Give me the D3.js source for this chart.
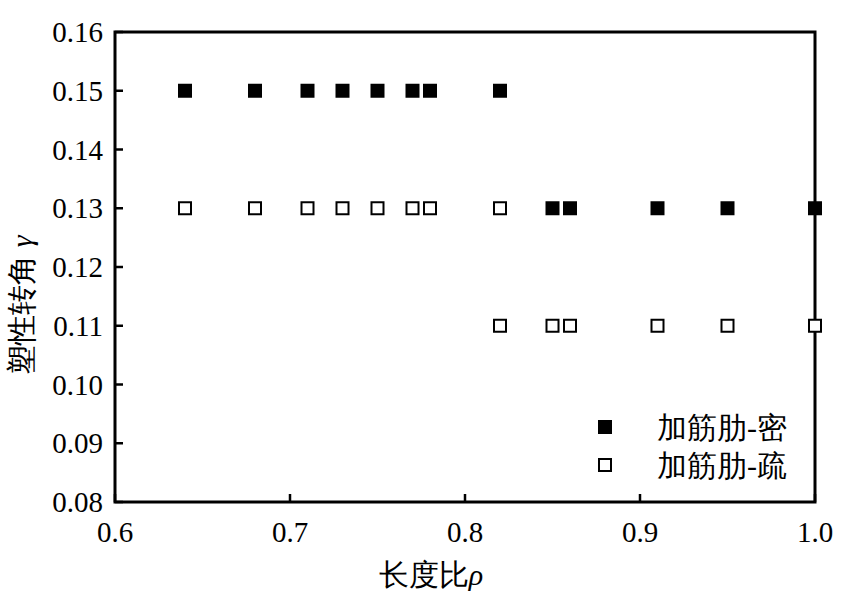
<!DOCTYPE html>
<html><head><meta charset="utf-8">
<script src="https://cdn.jsdelivr.net/npm/d3@7"></script>
</head><body style="margin:0">
<svg id="c" width="851" height="612"></svg>
<script>
const denseX = [0.64,0.68,0.71,0.73,0.75,0.77,0.78,0.82,0.85,0.86,0.91,0.95,1.0];
const denseY = [0.15,0.15,0.15,0.15,0.15,0.15,0.15,0.15,0.13,0.13,0.13,0.13,0.13];
const sparseX = [0.64,0.68,0.71,0.73,0.75,0.77,0.78,0.82,0.82,0.85,0.86,0.91,0.95,1.0];
const sparseY = [0.13,0.13,0.13,0.13,0.13,0.13,0.13,0.13,0.11,0.11,0.11,0.11,0.11,0.11];
const xTicks = [0.6,0.7,0.8,0.9,1.0];
const yTicks = [0.08,0.09,0.10,0.11,0.12,0.13,0.14,0.15,0.16];
const seriesNames = ["加筋肋-密","加筋肋-疏"];

const FONT = "Liberation Serif";
const svg = d3.select("#c");
const L=115,R=815,T=32,B=502;
const x = d3.scaleLinear().domain([0.6,1.0]).range([L,R]);
const y = d3.scaleLinear().domain([0.08,0.16]).range([B,T]);

svg.append("rect").attr("x",L).attr("y",T).attr("width",R-L).attr("height",B-T)
  .attr("fill","none").attr("stroke","#000").attr("stroke-width",3);

// ticks via scales
svg.append("g").selectAll("line").data(xTicks).join("line")
  .attr("x1",d=>x(d)).attr("x2",d=>x(d)).attr("y1",B).attr("y2",B-8)
  .attr("stroke","#000").attr("stroke-width",2.5);
svg.append("g").selectAll("line").data(yTicks).join("line")
  .attr("x1",L).attr("x2",L+8).attr("y1",d=>y(d)).attr("y2",d=>y(d))
  .attr("stroke","#000").attr("stroke-width",2.5);
svg.append("g").selectAll("text").data(xTicks).join("text")
  .attr("x",d=>x(d)).attr("y",B+40).attr("text-anchor","middle")
  .attr("font-family",FONT).style("font-family",'"Liberation Serif"')
  .attr("font-size",29).text(d=>d3.format(".1f")(d));
svg.append("g").selectAll("text").data(yTicks).join("text")
  .attr("x",L-12).attr("y",d=>y(d)+10).attr("text-anchor","end")
  .attr("font-family",FONT).style("font-family",'"Liberation Serif"')
  .attr("font-size",29).text(d=>d3.format(".2f")(d));

const dense = denseX.map((v,i)=>({x:v,y:denseY[i]}));
const sparse = sparseX.map((v,i)=>({x:v,y:sparseY[i]}));
svg.append("g").selectAll("rect").data(sparse).join("rect")
  .attr("x",d=>x(d.x)-6).attr("y",d=>y(d.y)-6).attr("width",12).attr("height",12)
  .attr("fill","#fff").attr("stroke","#000").attr("stroke-width",2);
svg.append("g").selectAll("rect").data(dense).join("rect")
  .attr("x",d=>x(d.x)-7).attr("y",d=>y(d.y)-7).attr("width",14).attr("height",14)
  .attr("fill","#000");

// legend
const lg = svg.append("g");
lg.append("rect").attr("x",598).attr("y",420).attr("width",14).attr("height",14).attr("fill","#000");
lg.append("rect").attr("x",599).attr("y",459).attr("width",12).attr("height",12).attr("fill","#fff").attr("stroke","#000").attr("stroke-width",2);
lg.selectAll("text").data(seriesNames).join("text")
  .attr("x",657).attr("y",(d,i)=>438+i*38)
  .attr("font-family",FONT).style("font-family",'"Liberation Serif"')
  .attr("font-size",30).text(d=>d);

// axis titles
svg.append("text").attr("x",431).attr("y",585).attr("text-anchor","middle")
  .attr("font-family",FONT).style("font-family",'"Liberation Serif"')
  .attr("font-size",30).html('长度比<tspan font-style="italic">ρ</tspan>');
svg.append("text").attr("transform","translate(32,305) rotate(-90)").attr("text-anchor","middle")
  .attr("font-family",FONT).style("font-family",'"Liberation Serif"')
  .attr("font-size",30).html('塑性转角 <tspan font-style="italic">γ</tspan>');
</script>
</body></html>
